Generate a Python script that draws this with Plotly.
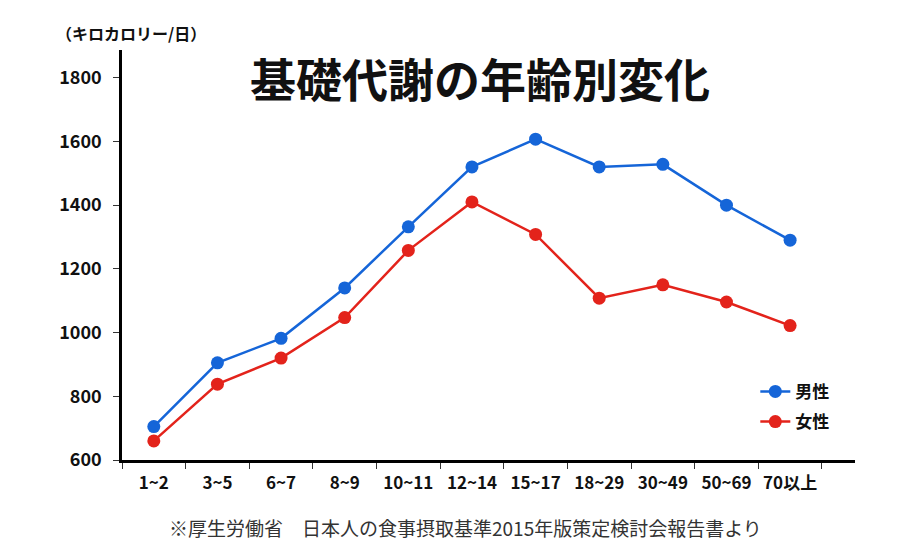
import plotly.graph_objects as go

categories = ["1~2", "3~5", "6~7", "8~9", "10~11", "12~14", "15~17", "18~29", "30~49", "50~69", "70以上"]
male = [705, 905, 982, 1140, 1332, 1520, 1607, 1520, 1528, 1400, 1290]
female = [660, 838, 920, 1047, 1258, 1410, 1308, 1108, 1150, 1096, 1022]
y_ticks = [600, 800, 1000, 1200, 1400, 1600, 1800]

FONT = "Noto Sans CJK JP"
BLUE = "#1565d8"
RED = "#e3231b"

fig = go.Figure()
fig.add_trace(go.Scatter(x=categories, y=male, name="<b>男性</b>", mode="lines+markers", legendgroup="m",
                         line=dict(color=BLUE, width=2.5), marker=dict(color=BLUE, size=13)))
fig.add_trace(go.Scatter(x=categories, y=female, name="<b>女性</b>", mode="lines+markers", legendgroup="f",
                         line=dict(color=RED, width=2.5), marker=dict(color=RED, size=13)))

fig.update_layout(
    width=918, height=557,
    margin=dict(l=122, r=63, t=50, b=97),
    paper_bgcolor="white", plot_bgcolor="white",
    font=dict(family=FONT, color="#111111"),
    showlegend=True,
    legend=dict(x=0.864, y=0.21, xanchor="left", yanchor="top",
                font=dict(size=17, family=FONT, color="#111111"),
                bgcolor="rgba(0,0,0,0)", itemwidth=30, tracegroupgap=5),
    xaxis=dict(type="category", range=[-0.5, 11.02], tickson="boundaries",
               showline=True, linecolor="black", linewidth=2.5,
               ticks="outside", ticklen=6, tickwidth=1, tickcolor="#333",
               ticklabelstandoff=6, tickangle=0,
               showgrid=False, zeroline=False,
               tickfont=dict(size=17, family=FONT, color="#111111", weight="bold")),
    yaxis=dict(range=[600, 1887], tickvals=y_ticks,
               showline=True, linecolor="black", linewidth=2.5,
               ticks="outside", ticklen=6, tickwidth=1, tickcolor="#333",
               ticklabelstandoff=8,
               showgrid=False, zeroline=False,
               tickfont=dict(size=18, family=FONT, color="#111111", weight="bold")),
)

fig.add_annotation(text="<b>基礎代謝の年齢別変化</b>", xref="paper", yref="paper",
                   x=(480 - 122) / 733, y=(460 - 77) / 410, xanchor="center", yanchor="middle",
                   showarrow=False, font=dict(size=46, family=FONT, color="#111111"))
fig.add_annotation(text="<b>（キロカロリー/日）</b>", xref="paper", yref="paper",
                   x=(54 - 122) / 733, y=(460 - 33) / 410, xanchor="left", yanchor="middle",
                   showarrow=False, font=dict(size=16, family=FONT, color="#111111"))
fig.add_annotation(text="※厚生労働省　日本人の食事摂取基準2015年版策定検討会報告書より", xref="paper", yref="paper",
                   x=(465 - 122) / 733, y=(460 - 527) / 410, xanchor="center", yanchor="middle",
                   showarrow=False, font=dict(size=19, family=FONT, color="#333333"))

fig.write_html("out.html", config={"displayModeBar": False},
               post_script="document.body.style.margin='0';")
